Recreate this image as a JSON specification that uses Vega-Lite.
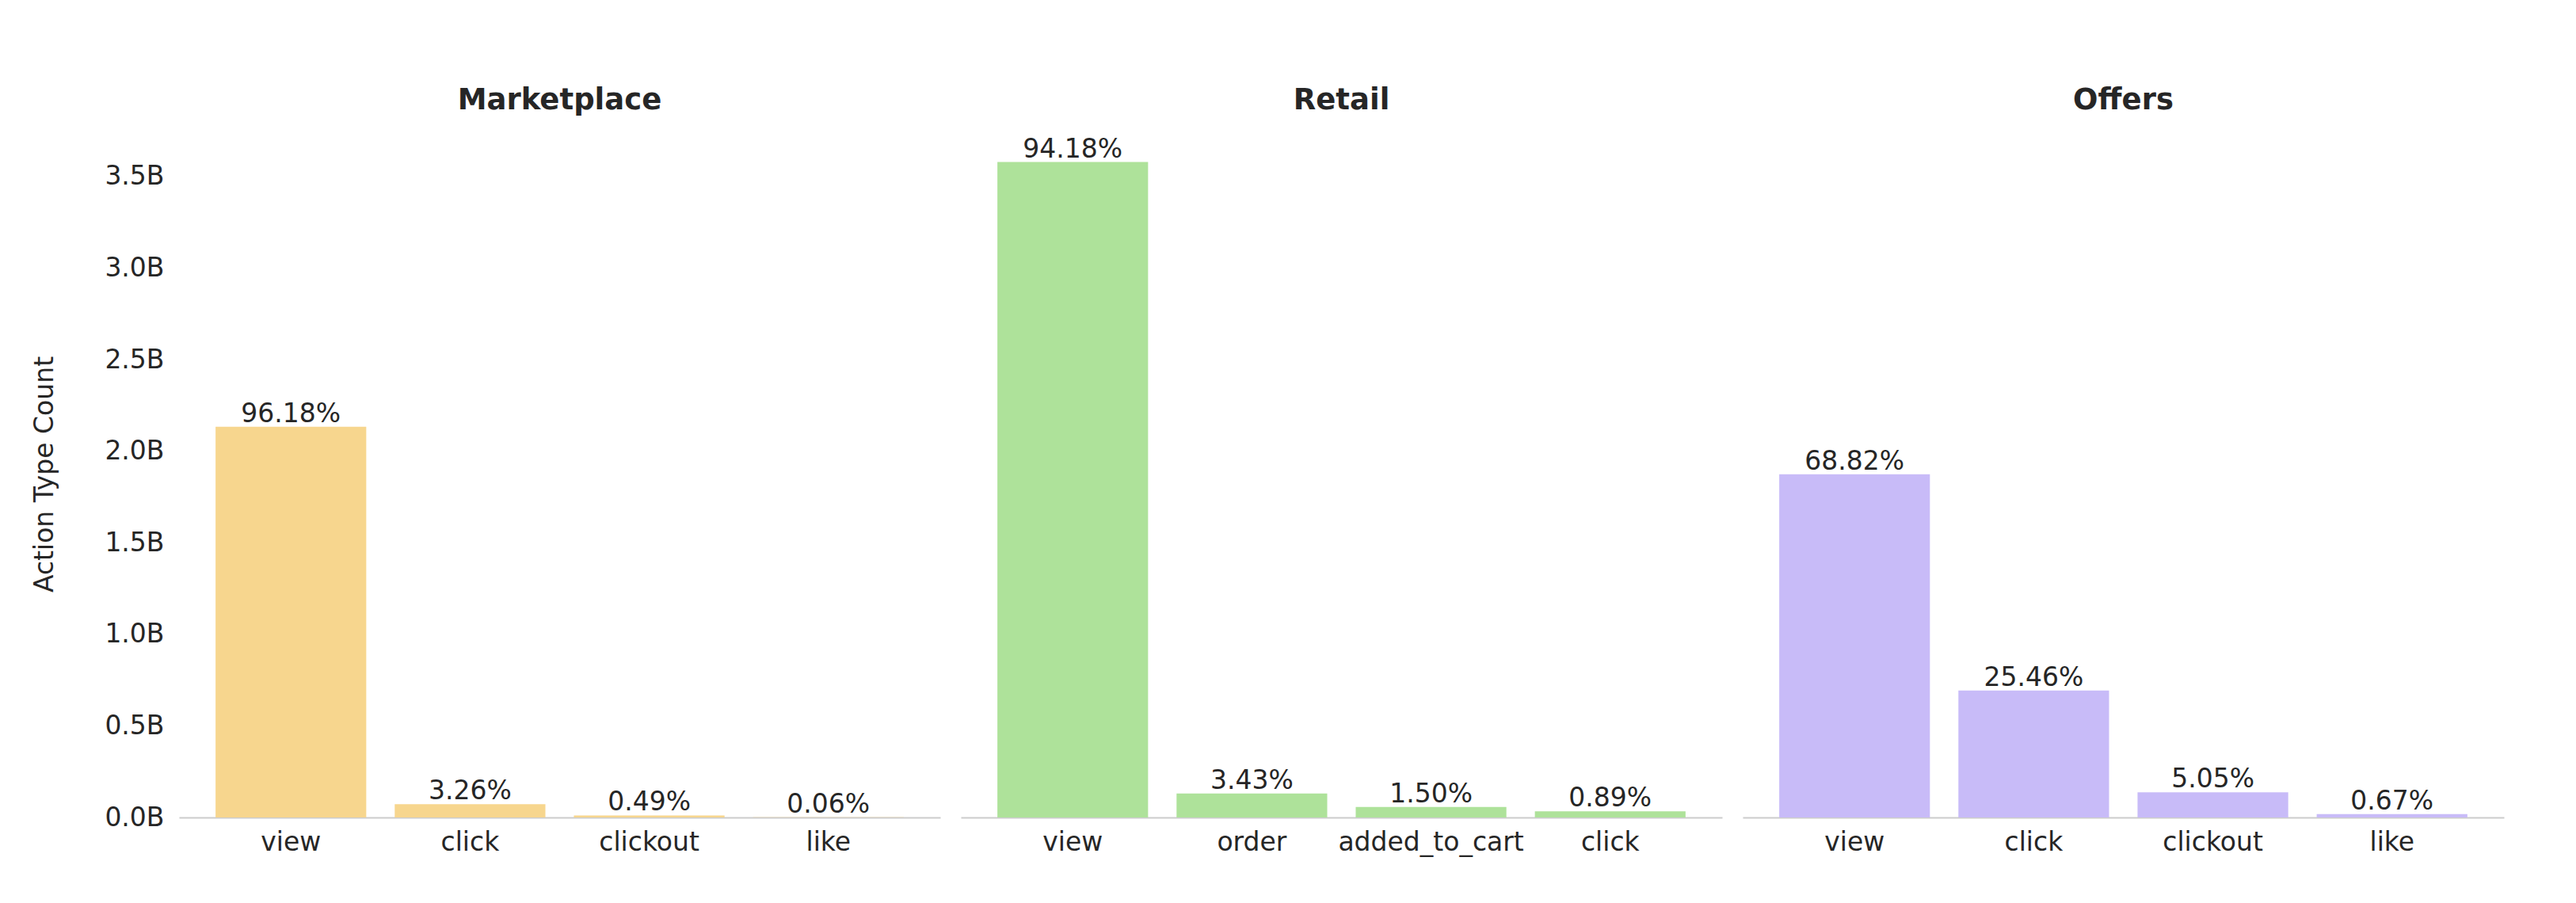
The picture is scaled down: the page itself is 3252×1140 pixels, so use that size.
{
  "$schema": "https://vega.github.io/schema/vega-lite/v6.json",
  "background": "white",
  "padding": {"left": 40, "top": 108, "right": 5, "bottom": 5},
  "data": {
    "values": [
      {"platform": "Marketplace", "action": "view", "count": 2133000000, "pct": "96.18%"},
      {"platform": "Marketplace", "action": "click", "count": 72300000, "pct": "3.26%"},
      {"platform": "Marketplace", "action": "clickout", "count": 10870000, "pct": "0.49%"},
      {"platform": "Marketplace", "action": "like", "count": 1330000, "pct": "0.06%"},
      {"platform": "Retail", "action": "view", "count": 3579000000, "pct": "94.18%"},
      {"platform": "Retail", "action": "order", "count": 130300000, "pct": "3.43%"},
      {"platform": "Retail", "action": "added_to_cart", "count": 57000000, "pct": "1.50%"},
      {"platform": "Retail", "action": "click", "count": 33800000, "pct": "0.89%"},
      {"platform": "Offers", "action": "view", "count": 1874000000, "pct": "68.82%"},
      {"platform": "Offers", "action": "click", "count": 693300000, "pct": "25.46%"},
      {"platform": "Offers", "action": "clickout", "count": 137500000, "pct": "5.05%"},
      {"platform": "Offers", "action": "like", "count": 18240000, "pct": "0.67%"}
    ]
  },
  "facet": {
    "column": {
      "field": "platform",
      "type": "nominal",
      "sort": ["Marketplace", "Retail", "Offers"],
      "header": {
        "title": null,
        "labelFont": "DejaVu Sans",
        "labelFontSize": 37,
        "labelFontWeight": "bold",
        "labelColor": "#262626",
        "labelBaseline": "alphabetic",
        "labelPadding": -10
      }
    }
  },
  "spacing": 26,
  "resolve": {"scale": {"x": "independent"}},
  "spec": {
    "width": 961,
    "height": 867,
    "encoding": {
      "x": {
        "field": "action",
        "type": "nominal",
        "sort": {"field": "count", "order": "descending"},
        "scale": {"paddingInner": 0.159, "paddingOuter": 0.204},
        "axis": {
          "title": null,
          "labelAngle": 0,
          "labelFont": "DejaVu Sans",
          "labelFontSize": 33,
          "labelColor": "#262626",
          "labelPadding": 15,
          "labelLimit": 0,
          "ticks": false,
          "domainColor": "#cccccc",
          "domainWidth": 2
        }
      },
      "y": {
        "field": "count",
        "type": "quantitative",
        "scale": {"domain": [0, 3750000000], "nice": false},
        "axis": {
          "title": "Action Type Count",
          "titleFont": "DejaVu Sans",
          "titleFontSize": 33,
          "titleFontWeight": "normal",
          "titleColor": "#262626",
          "titlePadding": 58,
          "values": [0, 500000000, 1000000000, 1500000000, 2000000000, 2500000000, 3000000000, 3500000000],
          "labelExpr": "format(datum.value / 1e9, '.1f') + 'B'",
          "labelFont": "DejaVu Sans",
          "labelFontSize": 33,
          "labelColor": "#262626",
          "labelPadding": 19,
          "ticks": false,
          "domain": false,
          "grid": false
        }
      }
    },
    "layer": [
      {
        "mark": {"type": "bar"},
        "encoding": {
          "color": {
            "field": "platform",
            "type": "nominal",
            "scale": {"domain": ["Marketplace", "Retail", "Offers"], "range": ["#f7d68e", "#aee29a", "#c8bbf8"]},
            "legend": null
          }
        }
      },
      {
        "mark": {"type": "text", "baseline": "alphabetic", "dy": -6, "font": "DejaVu Sans", "fontSize": 33, "color": "#262626"},
        "encoding": {
          "text": {"field": "pct", "type": "nominal"}
        }
      }
    ]
  },
  "config": {
    "view": {"stroke": null},
    "font": "DejaVu Sans"
  }
}
